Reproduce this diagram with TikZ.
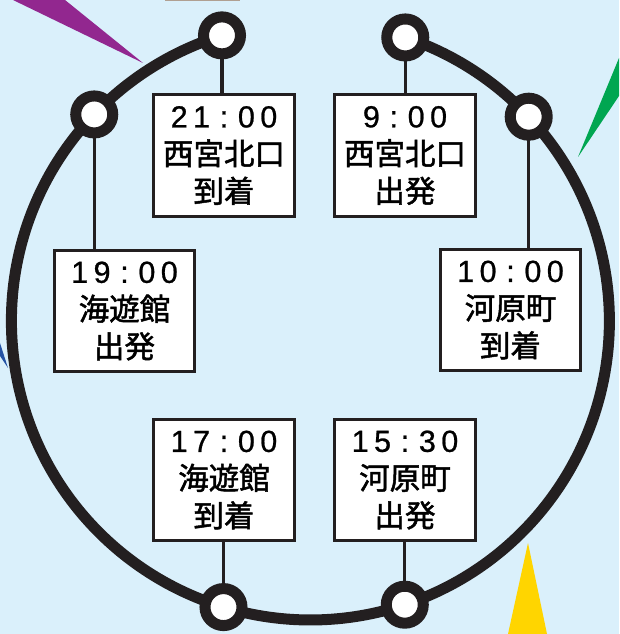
\documentclass[tikz,border=0pt]{standalone}
\usepackage{fontspec}
\setmainfont{Liberation Sans}[FakeBold=0.8]
\newfontfamily\jpfont{Noto Sans CJK JP}[FakeBold=1.6]
\usetikzlibrary{calc}
\definecolor{bg}{RGB}{218,240,251}
\definecolor{ink}{RGB}{35,31,32}
\definecolor{purp}{RGB}{146,39,143}
\definecolor{grn}{RGB}{0,166,81}
\definecolor{blu}{RGB}{36,83,165}
\definecolor{yel}{RGB}{255,213,0}
\definecolor{strip}{RGB}{176,160,146}
\newcommand\dg[1]{\makebox[22.4pt][c]{#1}}
\begin{document}
\begin{tikzpicture}[x=1pt,y=1pt,
  ring/.style={draw=ink, line width=11pt},
  link/.style={draw=ink, line width=3.3pt},
  station/.style={circle, draw=ink, fill=white, line width=11pt, minimum size=37pt, inner sep=0pt},
  stopbox/.style={draw=ink, line width=3.4pt, fill=white, minimum width=140.5pt, minimum height=121.5pt,
    inner sep=0pt, align=center, font=\fontsize{30.5}{37.5}\selectfont}]
\fill[bg] (0,0) rectangle (619,634);
\useasboundingbox (0,0) rectangle (619,634);
% decorative slivers
\fill[purp] (13,634) -- (65,634) -- (143,571) -- cycle;
\fill[grn] (619,576) -- (619,538) -- (578,477) -- cycle;
\fill[blu] (0,291) -- (0,278) -- (8,266) -- cycle;
\fill[yel] (528,91) -- (508,0) -- (547,0) -- cycle;
\fill[strip] (165,632.8) rectangle (240,634);
% station positions
\coordinate (c) at (310.4,313);
\coordinate (p1) at ($(c)+(107.2:299)$);
\coordinate (p2) at ($(c)+(71.5:299)$);
\coordinate (p3) at ($(c)+(136.3:299)$);
\coordinate (p4) at ($(c)+(43.1:299)$);
\coordinate (p5) at ($(c)+(253.1:299)$);
\coordinate (p6) at ($(c)+(288.4:299)$);
% route ring (open at the top between p1 and p2)
\draw[ring] (p1) arc[start angle=107.2, end angle=136.3, radius=299]
  arc[start angle=136.3, end angle=253.1, radius=299]
  arc[start angle=253.1, end angle=288.4, radius=299]
  arc[start angle=288.4, end angle=403.1, radius=299]
  arc[start angle=403.1, end angle=431.5, radius=299];
% boxes
\node[stopbox] (b1) at (224,478.5) {\dg{2}\dg{1}\dg{:}\dg{0}\dg{0}\\{\jpfont 西宮北口}\\{\jpfont 到着}};
\node[stopbox] (b2) at (405,478.5) {\dg{9}\dg{:}\dg{0}\dg{0}\\{\jpfont 西宮北口}\\{\jpfont 出発}};
\node[stopbox] (b3) at (124.5,323) {\dg{1}\dg{9}\dg{:}\dg{0}\dg{0}\\{\jpfont 海遊館}\\{\jpfont 出発}};
\node[stopbox] (b4) at (510.5,324) {\dg{1}\dg{0}\dg{:}\dg{0}\dg{0}\\{\jpfont 河原町}\\{\jpfont 到着}};
\node[stopbox] (b5) at (224,154) {\dg{1}\dg{7}\dg{:}\dg{0}\dg{0}\\{\jpfont 海遊館}\\{\jpfont 到着}};
\node[stopbox] (b6) at (405,154) {\dg{1}\dg{5}\dg{:}\dg{3}\dg{0}\\{\jpfont 河原町}\\{\jpfont 出発}};
% connectors
\draw[link] (p1) -- (p1 |- b1.north);
\draw[link] (p2) -- (p2 |- b2.north);
\draw[link] (p3) -- (p3 |- b3.north);
\draw[link] (p4) -- (p4 |- b4.north);
\draw[link] (p5) -- (p5 |- b5.south);
\draw[link] (p6) -- (p6 |- b6.south);
% stations
\node[station] (s1) at (p1) {};
\node[station] (s2) at (p2) {};
\node[station] (s3) at (p3) {};
\node[station] (s4) at (p4) {};
\node[station] (s5) at (p5) {};
\node[station] (s6) at (p6) {};
\end{tikzpicture}
\end{document}
